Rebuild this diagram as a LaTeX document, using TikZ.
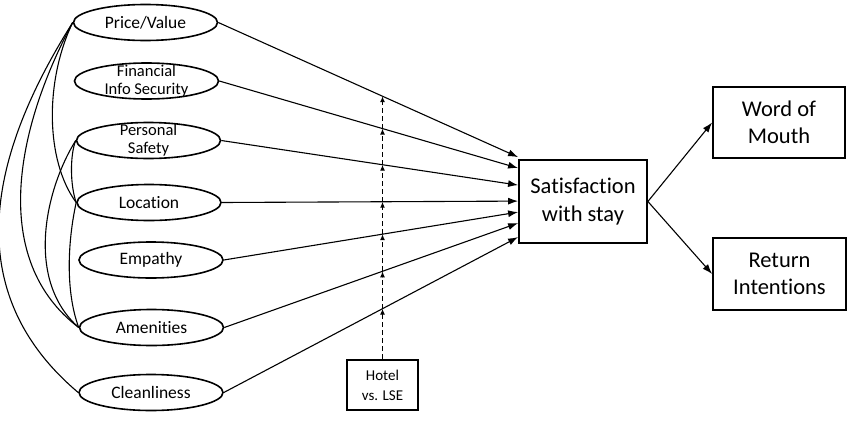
\documentclass[tikz,border=0pt]{standalone}
\usepackage{fontspec}
\setmainfont[Ligatures={NoCommon}]{Carlito}
\usetikzlibrary{shapes.geometric,arrows.meta,intersections}
\begin{document}
\begin{tikzpicture}[x=1pt,y=-1pt,
  ell/.style={draw,ellipse,line width=1.6pt,minimum width=144pt,minimum height=36pt,inner sep=0pt},
  elltxt/.style={font=\fontsize{17.5}{18}\selectfont,align=center,inner sep=0pt},
  elltxttwo/.style={font=\fontsize{16.5}{18}\selectfont,align=center,inner sep=0pt},
  bigbox/.style={draw,line width=1.8pt,font=\fontsize{22.5}{27.5}\selectfont,align=center,inner sep=0pt},
  smallbox/.style={draw,line width=1.8pt,font=\fontsize{15}{20}\selectfont,align=center,inner sep=0pt,minimum width=71pt,minimum height=50pt},
  conn/.style={line width=1.1pt,-{Latex[length=10pt,width=7pt]}},
  corr/.style={line width=1.1pt},
  modline/.style={line width=1.6pt,dash pattern=on 5pt off 3pt},
  modtip/.style={-{Latex[length=6pt,width=5pt]}}
]
\useasboundingbox[fill=white] (0,0) rectangle (860,434);

% predictors
\node[ell,label={[elltxt]center:Price/Value}] (price) at (145.5,22.5) {};
\node[ell,label={[elltxttwo]center:Financial\\Info Security}] (fin) at (146.5,81) {};
\node[ell,label={[elltxttwo]center:Personal\\Safety}] (pers) at (148.5,140.5) {};
\node[ell,label={[elltxt]center:Location}] (loc) at (149,202.5) {};
\node[ell,label={[elltxt]center:Empathy}] (emp) at (151,260) {};
\node[ell,label={[elltxt]center:Amenities}] (amen) at (151.5,327.5) {};
\node[ell,label={[elltxt]center:Cleanliness}] (clean) at (151,392.5) {};

% outcome boxes
\node[bigbox,minimum width=128pt,minimum height=83pt] (sat) at (583,201.5) {Satisfaction\\with stay};
\node[bigbox,minimum width=132pt,minimum height=71pt] (wom) at (779,122.5) {Word of\\Mouth};
\node[bigbox,minimum width=133pt,minimum height=72pt] (ret) at (779.5,274) {Return\\Intentions};

% moderator
\node[smallbox] (hot) at (382.5,385) {Hotel\\vs. LSE};

% paths to satisfaction
\draw[conn,name path=l1] (price.east) -- ([yshift=2pt]sat.north west);
\draw[conn,name path=l2] (fin.east) -- ([yshift=-9pt]sat.north west);
\draw[conn,name path=l3] (pers.east) -- ([yshift=-26pt]sat.north west);
\draw[conn,name path=l4] (loc.east) -- ([yshift=-42pt]sat.north west);
\draw[conn,name path=l5] (emp.east) -- ([yshift=-53pt]sat.north west);
\draw[conn,name path=l6] (amen.east) -- ([yshift=-64pt]sat.north west);
\draw[conn,name path=l7] (clean.east) -- ([yshift=-78pt]sat.north west);

% outcomes
\draw[conn] (sat.east) -- (wom.west);
\draw[conn] (sat.east) -- (ret.west);

% moderation line
\path[name path=vert] (hot.north) -- ([yshift=320pt]hot.north);
\path[name intersections={of=vert and l1,by=m1}];
\path[name intersections={of=vert and l2,by=m2}];
\path[name intersections={of=vert and l3,by=m3}];
\path[name intersections={of=vert and l4,by=m4}];
\path[name intersections={of=vert and l5,by=m5}];
\path[name intersections={of=vert and l6,by=m6}];
\path[name intersections={of=vert and l7,by=m7}];
\draw[modline,modtip] (hot.north) -- (m7);
\draw[modline,modtip] (m7) -- (m6);
\draw[modline,modtip] (m6) -- (m5);
\draw[modline,modtip] (m5) -- (m4);
\draw[modline,modtip] (m4) -- (m3);
\draw[modline,modtip] (m3) -- (m2);
\draw[modline,modtip] (m2) -- (m1);

% correlations
\draw[corr] (price.west) .. controls (5,130) and (-55,280) .. (clean.west);
\draw[corr] (price.west) .. controls (15,130) and (-10,260) .. (amen.west);
\draw[corr] (price.west) .. controls (45,80) and (45,160) .. (loc.west);
\draw[corr] (pers.west) .. controls (70,155) and (70,185) .. (loc.west);
\draw[corr] (pers.west) .. controls (45,190) and (25,280) .. (amen.west);
\draw[corr] (loc.west) .. controls (68,240) and (65,290) .. (amen.west);
\end{tikzpicture}
\end{document}
